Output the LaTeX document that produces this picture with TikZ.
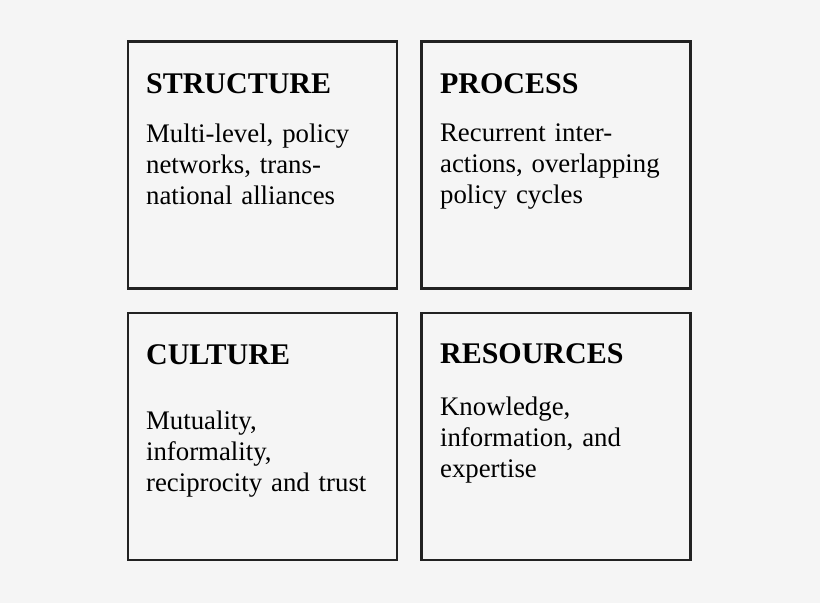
\documentclass[tikz,border=0pt]{standalone}
\usepackage{fontspec}
\setmainfont{Liberation Serif}
\usetikzlibrary{positioning}
\definecolor{bg}{HTML}{F5F5F5}
\definecolor{frame}{HTML}{222222}

\begin{document}
\begin{tikzpicture}[box/.style={rectangle, draw=frame, line width=2.2pt, fill=bg, minimum width=269pt, minimum height=247pt, inner sep=0pt},
    head/.style={inner sep=0pt, anchor=base west, font=\fontsize{30}{34}\selectfont\bfseries},
    body/.style={inner sep=0pt, anchor=base west, text width=250pt, align=left, font=\fontsize{26.8}{31}\selectfont}]

            \fill[bg] (0,0) rectangle (820pt,603pt);
            \useasboundingbox (0,0) rectangle (820pt,603pt);

            \node[box] (1) at (262.5pt,438pt) {};
            \node[box] (2) [right of = 1, node distance=293.5pt] {};
            \node[box] (3) [below of = 1, node distance=271.5pt] {};
            \node[box] (4) [right of = 3, node distance=293.5pt] {};

            \node[head] (h1) [below right=53pt and 19pt of 1.north west, anchor=base west] {STRUCTURE};
            \node[head] (h2) [below right=53pt and 19.5pt of 2.north west, anchor=base west] {PROCESS};
            \node[head] (h3) [below right=52.5pt and 19pt of 3.north west, anchor=base west] {CULTURE};
            \node[head] (h4) [below right=51.5pt and 19.5pt of 4.north west, anchor=base west] {RESOURCES};

            \node[body] (b1) [below right=102.5pt and 19pt of 1.north west, anchor=base west] {Multi-level, policy\\ networks, trans-\\ national alliances};
            \node[body] (b2) [below right=101.5pt and 19.5pt of 2.north west, anchor=base west] {Recurrent inter-\\ actions, overlapping\\ policy cycles};
            \node[body] (b3) [below right=117.5pt and 19pt of 3.north west, anchor=base west] {Mutuality,\\ informality,\\ reciprocity and trust};
            \node[body] (b4) [below right=103.5pt and 19.5pt of 4.north west, anchor=base west] {Knowledge,\\ information, and\\ expertise};

            ;
        \end{tikzpicture}
\end{document}
